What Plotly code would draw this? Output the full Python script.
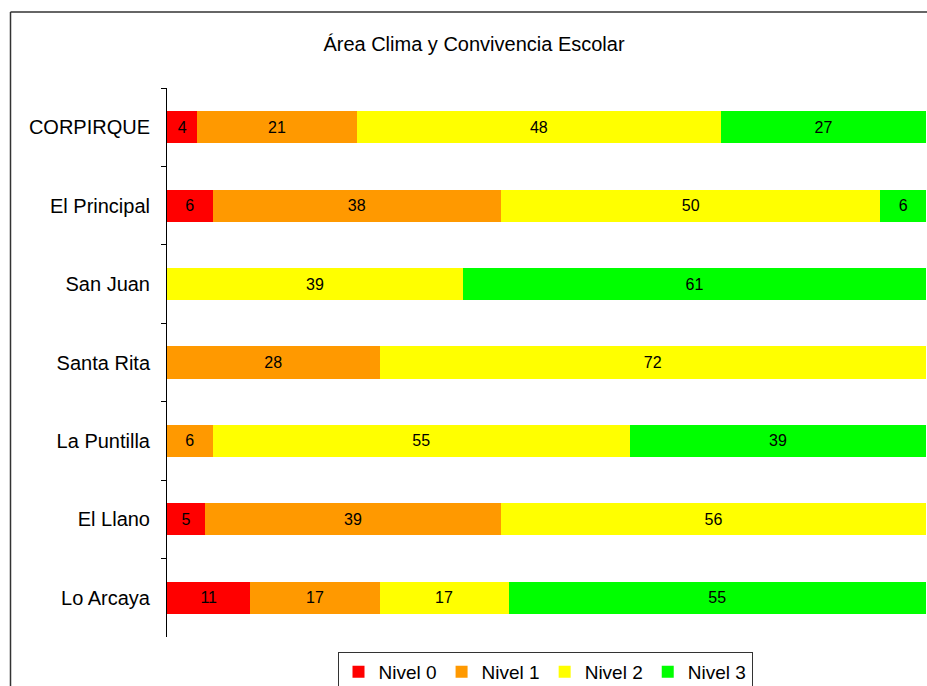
import plotly.graph_objects as go

# schools, top to bottom
escuelas = ["CORPIRQUE", "El Principal", "San Juan", "Santa Rita",
            "La Puntilla", "El Llano", "Lo Arcaya"]

nivel_0 = [4, 6, 0, 0, 0, 5, 11]
nivel_1 = [21, 38, 0, 28, 6, 39, 17]
nivel_2 = [48, 50, 39, 72, 55, 56, 17]
nivel_3 = [27, 6, 61, 0, 39, 0, 55]

series = [
    ("Nivel 0", nivel_0, "#FF0000"),
    ("Nivel 1", nivel_1, "#FF9900"),
    ("Nivel 2", nivel_2, "#FFFF00"),
    ("Nivel 3", nivel_3, "#00FF00"),
]

FONT = "Liberation Sans, Arial, sans-serif"
W, H = 927, 686
# plot area in px: x 167..926, y 88..637
L, R, T, B = 167, 1, 88, 49

fig = go.Figure()
for name, vals, color in series:
    fig.add_trace(go.Bar(
        y=escuelas,
        x=vals,
        name=name,
        orientation="h",
        marker=dict(color=color, line=dict(width=0)),
        text=[str(v) if v else "" for v in vals],
        textposition="inside",
        insidetextanchor="middle",
        textangle=0,
        textfont=dict(family=FONT, size=16, color="black"),
    ))

# pixel -> paper coords (for the outer frame and legend)
pw, ph = W - L - R, H - T - B
def px_x(v):
    return (v - L) / pw
def px_y(v):
    return (H - B - v) / ph

fig.update_layout(
    barmode="stack",
    bargap=0.59,
    width=W,
    height=H,
    margin=dict(l=L, r=R, t=T, b=B, autoexpand=False),
    paper_bgcolor="white",
    plot_bgcolor="white",
    font=dict(family=FONT, color="black"),
    title=dict(
        text="Área Clima y Convivencia Escolar",
        x=474 / W, xanchor="center",
        y=1 - 44 / H, yanchor="middle",
        font=dict(size=20, color="black"),
    ),
    xaxis=dict(range=[0, 100], visible=False, fixedrange=True),
    yaxis=dict(
        autorange="reversed",
        showline=True, linecolor="black", linewidth=1,
        ticks="outside", tickson="boundaries", ticklen=5, tickcolor="black",
        ticklabelstandoff=12,
        tickfont=dict(size=20),
        showgrid=False, zeroline=False,
    ),
    legend=dict(
        orientation="h",
        x=px_x(545), xanchor="center",
        y=px_y(652), yanchor="top",
        bordercolor="#333333", borderwidth=1,
        font=dict(size=19),
        itemwidth=30,
        traceorder="normal",
    ),
    shapes=[
        dict(type="line", xref="paper", yref="paper",
             x0=px_x(10.5), x1=px_x(10.5), y0=px_y(12), y1=px_y(700),
             line=dict(color="#333333", width=1.5)),
        dict(type="line", xref="paper", yref="paper",
             x0=px_x(10.5), x1=px_x(940), y0=px_y(12), y1=px_y(12),
             line=dict(color="#333333", width=1.5)),
    ],
    showlegend=True,
)

fig.write_html(
    "out.html",
    config={"displayModeBar": False},
    post_script="document.body.style.margin='0';document.body.style.overflow='hidden';",
)
